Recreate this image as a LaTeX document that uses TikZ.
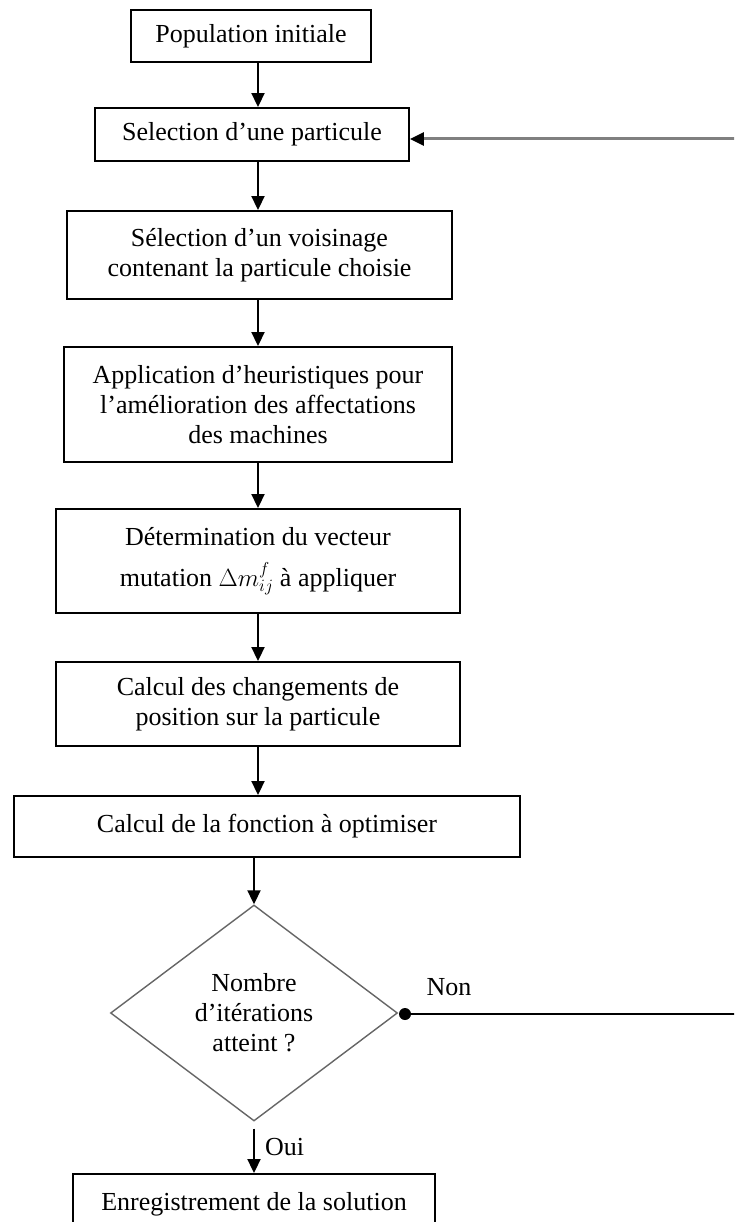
\documentclass[tikz,border=0pt]{standalone}
\usepackage{fontspec}
\setmainfont{Liberation Serif}
\usetikzlibrary{arrows.meta,shapes.geometric}

\begin{document}
\begin{tikzpicture}[x=1pt,y=-1pt,
  txt/.style={font=\fontsize{26}{30}\selectfont},
  box/.style={txt,draw=black,line width=1.9pt,rectangle,align=center,inner sep=0pt},
  decision/.style={txt,draw=black!60,line width=1.4pt,diamond,align=center,inner sep=0pt},
  flow/.style={line width=1.9pt,-{Triangle[width=13pt,length=14pt]}},
  loopback/.style={line width=3pt,draw=black!50,-{Triangle[width=13pt,length=14pt,color=black]}},
  plain/.style={line width=1.9pt,draw=black},
  junction/.style={circle,fill=black,inner sep=0pt,minimum size=12pt},
  tag/.style={txt,inner sep=0pt}
]
% page frame
\useasboundingbox (0,0) rectangle (734,1222);
\fill[white] (0,0) rectangle (734,1222);
\clip (0,0) rectangle (734,1222);

% main column
\coordinate (axis) at (258,0);

\node[box,minimum width=240pt,minimum height=52pt] (b1) at (251,36) {Population initiale};
\node[box,minimum width=314pt,minimum height=53pt] (b2) at (252,134.5) {Selection d’une particule};
\node[box,minimum width=385pt,minimum height=88pt] (b3) at (259.5,255) {Sélection d’un voisinage\\contenant la particule choisie};
\node[box,minimum width=388pt,minimum height=115pt] (b4) at (258,404.5) {Application d’heuristiques pour\\l’amélioration des affectations\\des machines};
\node[box,minimum width=404pt,minimum height=104pt] (b5) at (258,561) {Détermination du vecteur\\[11pt]mutation $\Delta m_{ij}^{f}$ à appliquer};
\node[box,minimum width=404pt,minimum height=84pt] (b6) at (258,704) {Calcul des changements de\\position sur la particule};
\node[box,minimum width=506pt,minimum height=61pt] (b7) at (267,826.5) {Calcul de la fonction à optimiser};
\node[decision,minimum width=287pt,minimum height=216pt] (dec) at (254,1013) {Nombre\\d’itérations\\atteint ?};
\node[box,minimum width=362pt,minimum height=60pt] (b8) at (254,1204) {Enregistrement de la solution};

% vertical flow
\draw[flow] (axis |- b1.south) -- (axis |- b2.north);
\draw[flow] (axis |- b2.south) -- (axis |- b3.north);
\draw[flow] (axis |- b3.south) -- (axis |- b4.north);
\draw[flow] (axis |- b4.south) -- (axis |- b5.north);
\draw[flow] (axis |- b5.south) -- (axis |- b6.north);
\draw[flow] (axis |- b6.south) -- (axis |- b7.north);
\draw[flow] (dec.north |- b7.south) -- (dec.north);
\draw[flow] ([yshift=-7pt]dec.south) -- (b8.north);
\node[tag,anchor=west] (oui) at (265,1147) {Oui};

% "Non" branch back to the particle selection
\node[junction] (dot) at (405,1014) {};
\node[tag] (non) at (449,987) {Non};
\coordinate (rightlow) at (740,1014);
\coordinate (righthigh) at (740,139);
\draw[plain] (dot.center) -- (rightlow);
\draw[loopback] (righthigh) -- (b2.east |- righthigh);
\end{tikzpicture}
\end{document}
